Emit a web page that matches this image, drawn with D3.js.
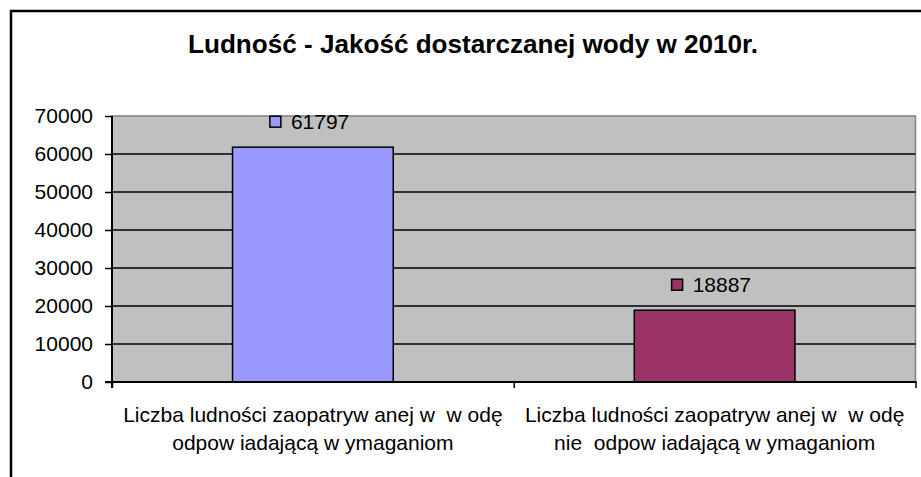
<!DOCTYPE html>
<html>
<head>
<meta charset="utf-8">
<script src="https://cdn.jsdelivr.net/npm/d3@7"></script>
<style>
  body { margin: 0; background: #fff; }
  svg text { font-family: "Liberation Sans", Arial, sans-serif; white-space: pre; }
</style>
</head>
<body>
<div id="chart"></div>
<script>
// data
var title = "Ludność - Jakość dostarczanej wody w 2010r.";
var categories = ["c1", "c2"];
var catLines = [
    ["Liczba ludności zaopatryw anej w  w odę", "odpow iadającą w ymaganiom"],
    ["Liczba ludności zaopatryw anej w  w odę", "nie  odpow iadającą w ymaganiom"]
];
var values = [61797, 18887];
var colors = ["#9999ff", "#993366"];
var yTicks = [0, 10000, 20000, 30000, 40000, 50000, 60000, 70000];

var W = 921, H = 477;
var plot = {left: 112, right: 915.5, top: 116, bottom: 382};

var svg = d3.select("#chart").append("svg")
    .attr("width", W)
    .attr("height", H);

// outer chart border (runs off right / bottom)
svg.append("rect")
    .attr("x", 11).attr("y", 11)
    .attr("width", 940).attr("height", 500)
    .attr("fill", "none")
    .attr("stroke", "#000")
    .attr("stroke-width", 2.5);

// title
svg.append("text")
    .attr("x", 473).attr("y", 53)
    .attr("text-anchor", "middle")
    .attr("font-weight", "bold")
    .attr("font-size", 25)
    .attr("textLength", 570)
    .attr("lengthAdjust", "spacingAndGlyphs")
    .text(title);

var y = d3.scaleLinear()
    .domain([0, 70000])
    .range([plot.bottom, plot.top]);

var x = d3.scaleBand()
    .domain(categories)
    .range([plot.left, plot.right])
    .padding(0);

// plot background
svg.append("rect")
    .attr("x", plot.left).attr("y", plot.top)
    .attr("width", plot.right - plot.left)
    .attr("height", plot.bottom - plot.top)
    .attr("fill", "#c0c0c0")
    .attr("stroke", "#808080")
    .attr("stroke-width", 1.5);

// gridlines
svg.selectAll("line.grid")
    .data(yTicks.filter(function(d) { return d > 0 && d < 70000; }))
    .enter().append("line")
    .attr("class", "grid")
    .attr("x1", plot.left).attr("x2", plot.right)
    .attr("y1", function(d) { return y(d); })
    .attr("y2", function(d) { return y(d); })
    .attr("stroke", "#000")
    .attr("stroke-width", 1.5);

// bars
var barW = x.bandwidth() * 0.4;
svg.selectAll("rect.bar")
    .data(values)
    .enter().append("rect")
    .attr("class", "bar")
    .attr("x", function(d, i) { return x(categories[i]) + (x.bandwidth() - barW) / 2; })
    .attr("y", function(d) { return y(d); })
    .attr("width", barW)
    .attr("height", function(d) { return y(0) - y(d); })
    .attr("fill", function(d, i) { return colors[i]; })
    .attr("stroke", "#000")
    .attr("stroke-width", 1.5);

// data labels with legend key
var lbl = svg.selectAll("g.lbl")
    .data(values)
    .enter().append("g")
    .attr("class", "lbl")
    .attr("transform", function(d, i) {
        return "translate(" + (x(categories[i]) + x.bandwidth() / 2) + "," + (y(d) - 18) + ")";
    });
lbl.append("rect")
    .attr("x", -43).attr("y", -13)
    .attr("width", 11).attr("height", 11)
    .attr("fill", function(d, i) { return colors[i]; })
    .attr("stroke", "#000")
    .attr("stroke-width", 1.5);
lbl.append("text")
    .attr("x", -22).attr("y", 0)
    .attr("font-size", 21)
    .text(function(d) { return d; });

// y axis
var yAxis = svg.append("g")
    .attr("transform", "translate(" + plot.left + ",0)")
    .call(d3.axisLeft(y).tickValues(yTicks).tickSize(7).tickPadding(12).tickFormat(d3.format("d")));
yAxis.select(".domain").attr("stroke-width", 2).attr("d", "M0," + plot.top + "V" + (plot.bottom + 6));
yAxis.selectAll(".tick line").attr("stroke-width", 1.5);
yAxis.selectAll(".tick text")
    .attr("font-size", 21)
    .attr("font-family", "Liberation Sans, Arial, sans-serif")
    .attr("fill", "#000");

// x axis: category boundary ticks
var xb = d3.scaleLinear().domain([0, categories.length]).range([plot.left, plot.right]);
var xAxis = svg.append("g")
    .attr("transform", "translate(0," + plot.bottom + ")")
    .call(d3.axisBottom(xb).tickValues(d3.range(categories.length + 1)).tickSize(6).tickFormat(""));
xAxis.select(".domain").attr("stroke-width", 2).attr("d", "M" + (plot.left - 7) + ",0H" + (plot.right + 1));
xAxis.selectAll(".tick line").attr("stroke-width", 1.5);

// category labels
svg.selectAll("text.cat")
    .data(catLines)
    .enter().append("text")
    .attr("class", "cat")
    .attr("text-anchor", "middle")
    .attr("font-size", 21)
    .attr("y", 422)
    .each(function(lines, i) {
        var t = d3.select(this);
        lines.forEach(function(s, j) {
            t.append("tspan")
                .attr("x", x(categories[i]) + x.bandwidth() / 2)
                .attr("dy", j === 0 ? 0 : 28)
                .text(s);
        });
    });
</script>
</body>
</html>
